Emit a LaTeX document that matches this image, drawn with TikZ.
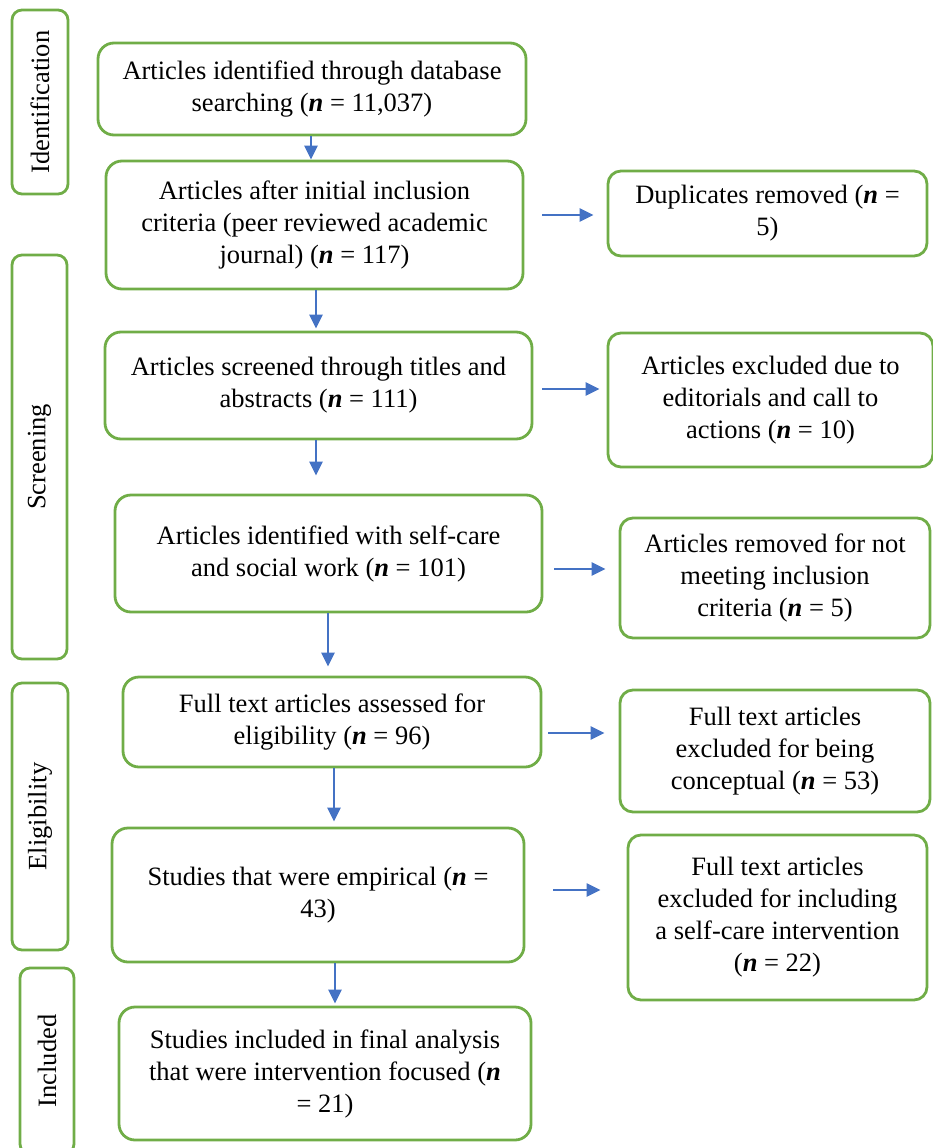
\documentclass[tikz,border=0pt]{standalone}
\usepackage{fontspec}
\setmainfont{Liberation Serif}
\usetikzlibrary{arrows.meta}

\definecolor{boxgreen}{RGB}{112,173,71}
\definecolor{flowblue}{RGB}{68,114,196}

\tikzset{
  box/.style={draw=boxgreen, line width=2.8pt, rounded corners=16pt,
    align=center, inner sep=0pt, font=\fontsize{26.5}{32}\selectfont},
  sidebox/.style={box, rounded corners=13pt},
  stage/.style={box, rounded corners=10pt, rotate=90},
  flow/.style={draw=flowblue, line width=2.3pt,
    -{Triangle[length=14pt,width=13pt]}},
}
\newcommand{\nn}{\textbf{\textit{n}}}

\begin{document}
\begin{tikzpicture}[x=1pt,y=-1pt]
    \useasboundingbox (0,0) rectangle (932,1148);
    % stages on the left
    \node[stage, minimum width=184pt, minimum height=56pt] (S1) at (40,102) {Identification};
    \node[stage, minimum width=404pt, minimum height=55pt] (S2) at (39.5,457) {Screening};
    \node[stage, minimum width=267pt, minimum height=56pt] (S3) at (40,816.5) {Eligibility};
    \node[stage, minimum width=186pt, minimum height=54pt] (S4) at (47,1061) {Included};
    % main column
    \node[box, minimum width=428pt, minimum height=92pt] (B1) at (312,89)
      {Articles identified through database\\ searching (\nn{} = 11,037)};
    \node[box, minimum width=417pt, minimum height=128pt] (B2) at (314.5,225)
      {Articles after initial inclusion\\ criteria (peer reviewed academic\\ journal) (\nn{} = 117)};
    \node[box, minimum width=427pt, minimum height=107pt] (B3) at (318.5,385.5)
      {Articles screened through titles and\\ abstracts (\nn{} = 111)};
    \node[box, minimum width=427pt, minimum height=117pt] (B4) at (328.5,553.5)
      {Articles identified with self-care\\ and social work (\nn{} = 101)};
    \node[box, minimum width=418pt, minimum height=90pt] (B5) at (332,722)
      {Full text articles assessed for\\ eligibility (\nn{} = 96)};
    \node[box, minimum width=412pt, minimum height=134pt] (B6) at (318,895)
      {Studies that were empirical (\nn{} =\\ 43)};
    \node[box, minimum width=412pt, minimum height=133pt] (B7) at (325,1073.5)
      {Studies included in final analysis\\ that were intervention focused (\nn\\ = 21)};
    % exclusions
    \node[sidebox, minimum width=319pt, minimum height=85pt] (R1) at (767.5,213.5)
      {Duplicates removed (\nn{} =\\ 5)};
    \node[sidebox, minimum width=325pt, minimum height=134pt] (R2) at (770.5,400)
      {Articles excluded due to\\ editorials and call to\\ actions (\nn{} = 10)};
    \node[sidebox, minimum width=310pt, minimum height=120pt] (R3) at (775,578)
      {Articles removed for not\\ meeting inclusion\\ criteria (\nn{} = 5)};
    \node[sidebox, minimum width=310pt, minimum height=122pt] (R4) at (775,751)
      {Full text articles\\ excluded for being\\ conceptual (\nn{} = 53)};
    \node[sidebox, minimum width=299pt, minimum height=165pt] (R5) at (777.5,917.5)
      {Full text articles\\ excluded for including\\ a self-care intervention\\ (\nn{} = 22)};
    % flow down
    \path ([xshift=-1pt]B1.south) edge [flow] ([xshift=-1pt]B1.south |- B2.north);
    \path ([xshift=1.5pt]B2.south) edge [flow, shorten >=2pt] ([xshift=1.5pt]B2.south |- B3.north);
    \path ([xshift=-2.5pt]B3.south) edge [flow, shorten >=18pt] ([xshift=-2.5pt]B3.south |- B4.north);
    \path ([xshift=-0.5pt]B4.south) edge [flow, shorten >=9pt] ([xshift=-0.5pt]B4.south |- B5.north);
    \path ([xshift=2pt]B5.south) edge [flow, shorten >=5pt] ([xshift=2pt]B5.south |- B6.north);
    \path ([xshift=17pt]B6.south) edge [flow, shorten >=2pt] ([xshift=17pt]B6.south |- B7.north);
    % flow right
    \path ([yshift=10pt]B2.east) edge [flow, shorten <=18pt, shorten >=13pt] ([yshift=10pt]B2.east -| R1.west);
    \path ([yshift=-3.5pt]B3.east) edge [flow, shorten <=9pt, shorten >=7pt] ([yshift=-3.5pt]B3.east -| R2.west);
    \path ([yshift=-15.5pt]B4.east) edge [flow, shorten <=11pt, shorten >=13pt] ([yshift=-15.5pt]B4.east -| R3.west);
    \path ([yshift=-11pt]B5.east) edge [flow, shorten <=6pt, shorten >=14pt] ([yshift=-11pt]B5.east -| R4.west);
    \path ([yshift=5pt]B6.east) edge [flow, shorten <=28pt, shorten >=26pt] ([yshift=5pt]B6.east -| R5.west);
\end{tikzpicture}
\end{document}
